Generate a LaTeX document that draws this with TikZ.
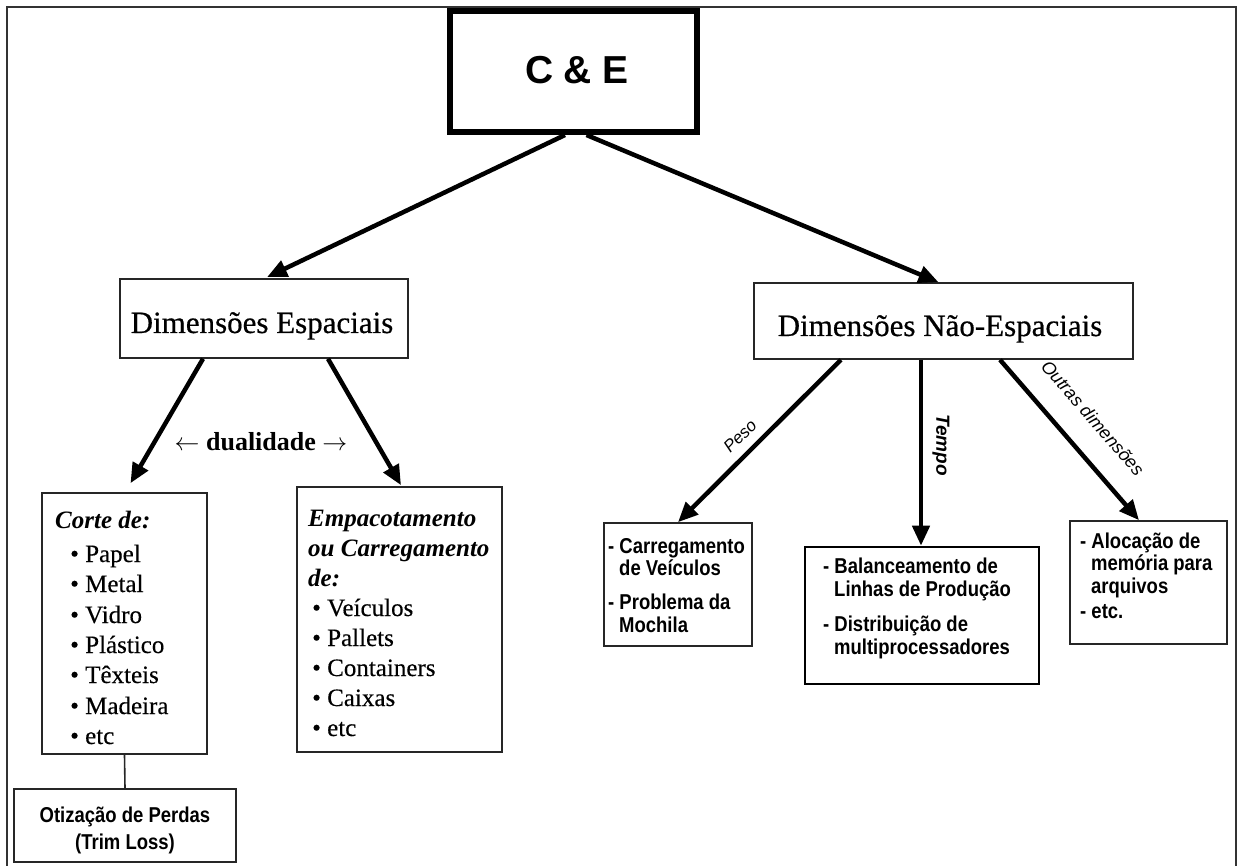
\documentclass[tikz,border=0pt]{standalone}
\usepackage{fontspec}
\setmainfont{Liberation Serif}
\newfontfamily\sansf{Liberation Sans}
\newfontfamily\sansn[FakeStretch=0.86]{Liberation Sans}
\newfontfamily\serifheavy[FakeBold=0.5]{Liberation Serif}
\newfontfamily\serifmed[FakeBold=0.3]{Liberation Serif}
\usetikzlibrary{arrows.meta}
\begin{document}
\begin{tikzpicture}[x=1pt,y=-1pt,
  box/.style={draw=black!85, line width=1.6pt, rectangle, inner sep=0pt},
  txt/.style={inner sep=0pt, anchor=base west},
  ctxt/.style={inner sep=0pt, anchor=base},
  bigarrow/.style={line width=4.5pt, -{Triangle[length=20pt,width=17pt]}},
  link/.style={line width=1.6pt, draw=black!85},
  lst/.style={txt, font=\serifmed\fontsize{25}{30}\selectfont},
  lsthead/.style={txt, font=\fontsize{25}{30}\selectfont\bfseries\itshape},
  sans/.style={txt, font=\sansn\bfseries\fontsize{21.5}{25}\selectfont},
  csans/.style={ctxt, font=\sansn\bfseries\fontsize{21.5}{25}\selectfont},
  dimtxt/.style={ctxt, font=\serifheavy\fontsize{31}{36}\selectfont},
]
\useasboundingbox (0,0) rectangle (1239,866);
\fill[white] (0,0) rectangle (1239,866);
\draw[line width=2pt, black!80] (7,866) -- (7,7) -- (1236,7) -- (1236,866);

% boxes
\node[box, line width=6pt, draw=black, minimum width=247pt, minimum height=121pt] (ce) at (573.5,71.5) {};
\node[box, minimum width=288pt, minimum height=79pt] (esp) at (264,318.5) {};
\node[box, minimum width=379pt, minimum height=76pt] (nesp) at (943.5,321) {};
\node[box, minimum width=165pt, minimum height=261pt] (corte) at (124.5,623.5) {};
\node[box, minimum width=205pt, minimum height=265pt] (empac) at (399.5,619.5) {};
\node[box, minimum width=222pt, minimum height=73pt] (otim) at (125,825.5) {};
\node[box, minimum width=148pt, minimum height=123pt] (carr) at (678,584.5) {};
\node[box, line width=2.6pt, draw=black, minimum width=234pt, minimum height=137pt] (bal) at (922,615.5) {};
\node[box, minimum width=157pt, minimum height=123pt] (aloc) at (1148.5,582.5) {};

% titles
\node[ctxt, font=\sansf\bfseries\fontsize{39}{44}\selectfont] (tce) at (577,84) {C \& E};
\node[dimtxt] (tesp) at (262,333) {Dimensões Espaciais};
\node[dimtxt] (tnesp) at (940,336) {Dimensões Não-Espaciais};
\node[ctxt, font=\fontsize{26}{30}\selectfont\bfseries] (tdual) at (261,450) {$\leftarrow$ dualidade $\rightarrow$};

% Corte de
\node[lsthead] (c0) at (55,528) {Corte de:};
\node[lst] (c1) at (70,562) {• Papel};
\node[lst] (c2) at (70,592) {• Metal};
\node[lst] (c3) at (70,623) {• Vidro};
\node[lst] (c4) at (70,653) {• Plástico};
\node[lst] (c5) at (70,683) {• Têxteis};
\node[lst] (c6) at (70,714) {• Madeira};
\node[lst] (c7) at (70,744) {• etc};

% Empacotamento
\node[lsthead] (e0) at (308,526) {Empacotamento};
\node[lsthead] (e1) at (308,556) {ou Carregamento};
\node[lsthead] (e2) at (308,586) {de:};
\node[lst] (e3) at (312,616) {• Veículos};
\node[lst] (e4) at (312,646) {• Pallets};
\node[lst] (e5) at (312,676) {• Containers};
\node[lst] (e6) at (312,706) {• Caixas};
\node[lst] (e7) at (312,736) {• etc};

% Otimizacao
\node[csans] (o1) at (125,822) {Otização de Perdas};
\node[csans] (o2) at (125,849) {(Trim Loss)};

% Carregamento
\node[sans] (r1) at (608,553) {- Carregamento};
\node[sans] (r2) at (619,575) {de Veículos};
\node[sans] (r3) at (608,609) {- Problema da};
\node[sans] (r4) at (619,632) {Mochila};

% Balanceamento
\node[sans] (b1) at (823,573) {- Balanceamento de};
\node[sans] (b2) at (834,596) {Linhas de Produção};
\node[sans] (b3) at (823,631) {- Distribuição de};
\node[sans] (b4) at (834,654) {multiprocessadores};

% Alocacao
\node[sans] (a1) at (1080,548) {- Alocação de};
\node[sans] (a2) at (1091,570) {memória para};
\node[sans] (a3) at (1091,593) {arquivos};
\node[sans] (a4) at (1080,618) {- etc.};

% arrows
\draw[bigarrow] ([xshift=-8.5pt]ce.south) -- ([xshift=3pt,yshift=1pt]esp.north);
\draw[bigarrow] ([xshift=13pt]ce.south) -- ([xshift=-5pt]nesp.north);
\draw[bigarrow] ([xshift=-61pt]esp.south) -- ([xshift=6pt,yshift=9pt]corte.north);
\draw[bigarrow] ([xshift=64pt]esp.south) -- ([xshift=1.5pt,yshift=1pt]empac.north);
\draw[bigarrow] ([xshift=-102.5pt]nesp.south) -- (carr.north);
\draw[bigarrow] ([xshift=-22.5pt]nesp.south) -- ([xshift=-1pt]bal.north);
\draw[bigarrow] ([xshift=56.5pt]nesp.south) -- ([xshift=-9.5pt]aloc.north);
\draw[link] (corte.south) -- (otim.north);

% labels
\node[inner sep=0pt, rotate=45, font=\sansf\itshape\fontsize{17}{20}\selectfont] (lpeso) at (740,436) {Peso};
\node[inner sep=0pt, rotate=-90, font=\sansf\bfseries\itshape\fontsize{19}{22}\selectfont] (ltempo) at (941,445) {Tempo};
\node[inner sep=0pt, rotate=-49, font=\sansf\itshape\fontsize{18}{21}\selectfont] (loutras) at (1093,418) {Outras dimensões};
\end{tikzpicture}
\end{document}
